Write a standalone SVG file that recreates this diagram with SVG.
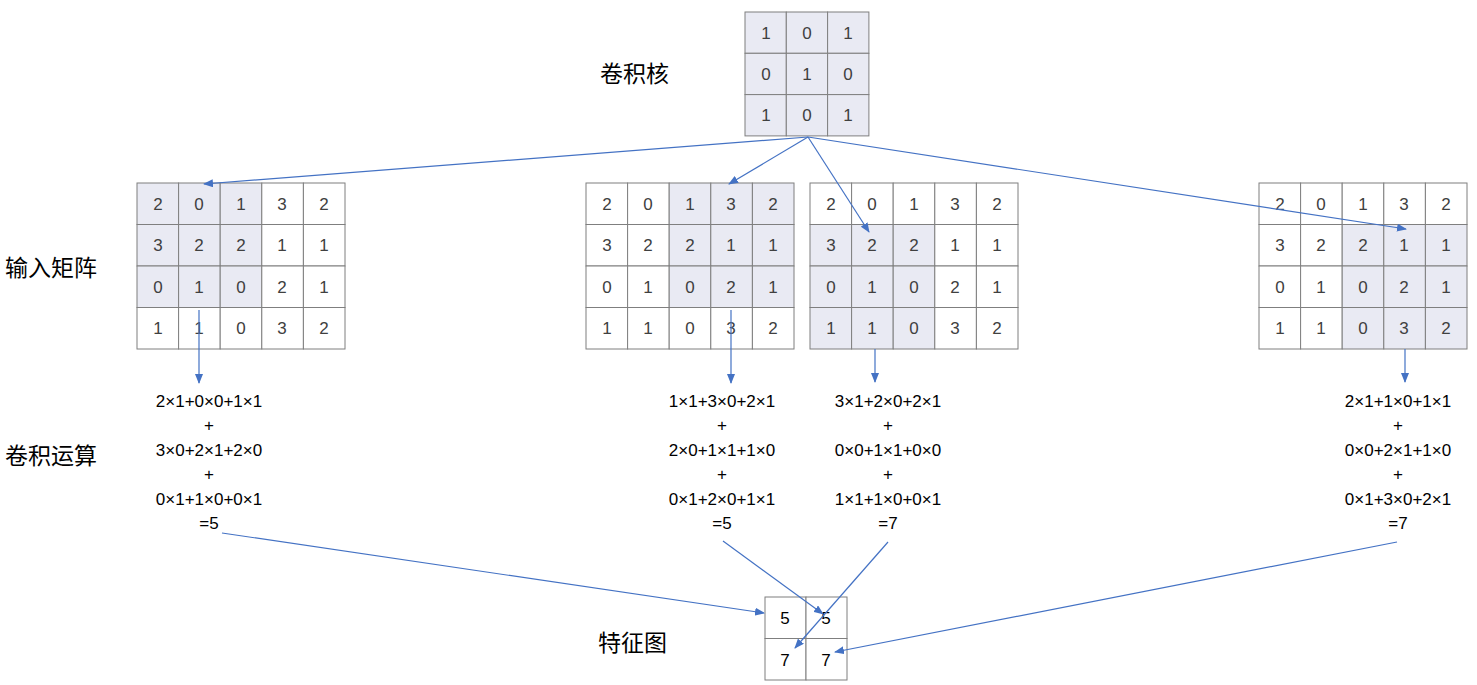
<svg xmlns="http://www.w3.org/2000/svg" width="1477" height="685" viewBox="0 0 1477 685">
<style>
.c{fill:#fff;stroke:#7f7f7f;stroke-width:1}
.s{fill:#e9eaf3;stroke:#7f7f7f;stroke-width:1}
.t{font-family:"Liberation Sans",Arial,sans-serif;font-size:17px;fill:#404040;text-anchor:middle;dominant-baseline:central}
.f{font-family:"Liberation Sans",Arial,sans-serif;font-size:17px;fill:#000;text-anchor:middle;dominant-baseline:central}
.l{font-family:"Noto Sans CJK SC",sans-serif;font-size:23px;fill:#000}
.a{stroke:#4472c4;stroke-width:1.2;fill:none;marker-end:url(#m)}
</style>
<defs><marker id="m" markerWidth="10" markerHeight="8" refX="9" refY="4" orient="auto" markerUnits="userSpaceOnUse"><path d="M0,0L10,4L0,8z" fill="#4472c4"/></marker></defs>
<rect width="1477" height="685" fill="#fff"/>
<text class="l" x="600" y="82">卷积核</text>
<text class="l" x="5" y="276">输入矩阵</text>
<text class="l" x="5" y="464">卷积运算</text>
<text class="l" x="598" y="651">特征图</text>
<g id="kernel">
<rect class="s" x="745" y="12" width="41.3" height="41.3"/><rect class="s" x="786.3" y="12" width="41.3" height="41.3"/><rect class="s" x="827.6" y="12" width="41.3" height="41.3"/>
<rect class="s" x="745" y="53.3" width="41.3" height="41.3"/><rect class="s" x="786.3" y="53.3" width="41.3" height="41.3"/><rect class="s" x="827.6" y="53.3" width="41.3" height="41.3"/>
<rect class="s" x="745" y="94.6" width="41.3" height="41.3"/><rect class="s" x="786.3" y="94.6" width="41.3" height="41.3"/><rect class="s" x="827.6" y="94.6" width="41.3" height="41.3"/>
<text class="t" x="766" y="33">1</text><text class="t" x="807" y="33">0</text><text class="t" x="848" y="33">1</text>
<text class="t" x="766" y="74">0</text><text class="t" x="807" y="74">1</text><text class="t" x="848" y="74">0</text>
<text class="t" x="766" y="115">1</text><text class="t" x="807" y="115">0</text><text class="t" x="848" y="115">1</text>
</g>
<g id="m1" transform="translate(137,183)">
<rect class="s" x="0" y="0" width="41.6" height="41.5"/><rect class="s" x="41.6" y="0" width="41.6" height="41.5"/><rect class="s" x="83.2" y="0" width="41.6" height="41.5"/><rect class="c" x="124.8" y="0" width="41.6" height="41.5"/><rect class="c" x="166.4" y="0" width="41.6" height="41.5"/>
<rect class="s" x="0" y="41.5" width="41.6" height="41.5"/><rect class="s" x="41.6" y="41.5" width="41.6" height="41.5"/><rect class="s" x="83.2" y="41.5" width="41.6" height="41.5"/><rect class="c" x="124.8" y="41.5" width="41.6" height="41.5"/><rect class="c" x="166.4" y="41.5" width="41.6" height="41.5"/>
<rect class="s" x="0" y="83" width="41.6" height="41.5"/><rect class="s" x="41.6" y="83" width="41.6" height="41.5"/><rect class="s" x="83.2" y="83" width="41.6" height="41.5"/><rect class="c" x="124.8" y="83" width="41.6" height="41.5"/><rect class="c" x="166.4" y="83" width="41.6" height="41.5"/>
<rect class="c" x="0" y="124.5" width="41.6" height="41.5"/><rect class="c" x="41.6" y="124.5" width="41.6" height="41.5"/><rect class="c" x="83.2" y="124.5" width="41.6" height="41.5"/><rect class="c" x="124.8" y="124.5" width="41.6" height="41.5"/><rect class="c" x="166.4" y="124.5" width="41.6" height="41.5"/>
<g id="nums1">
<text class="t" x="21" y="21">2</text><text class="t" x="62" y="21">0</text><text class="t" x="104" y="21">1</text><text class="t" x="145" y="21">3</text><text class="t" x="187" y="21">2</text>
<text class="t" x="21" y="62">3</text><text class="t" x="62" y="62">2</text><text class="t" x="104" y="62">2</text><text class="t" x="145" y="62">1</text><text class="t" x="187" y="62">1</text>
<text class="t" x="21" y="104">0</text><text class="t" x="62" y="104">1</text><text class="t" x="104" y="104">0</text><text class="t" x="145" y="104">2</text><text class="t" x="187" y="104">1</text>
<text class="t" x="21" y="145">1</text><text class="t" x="62" y="145">1</text><text class="t" x="104" y="145">0</text><text class="t" x="145" y="145">3</text><text class="t" x="187" y="145">2</text>
</g>
</g>
<g id="m2" transform="translate(586,183)">
<rect class="c" x="0" y="0" width="41.6" height="41.5"/><rect class="c" x="41.6" y="0" width="41.6" height="41.5"/><rect class="s" x="83.2" y="0" width="41.6" height="41.5"/><rect class="s" x="124.8" y="0" width="41.6" height="41.5"/><rect class="s" x="166.4" y="0" width="41.6" height="41.5"/>
<rect class="c" x="0" y="41.5" width="41.6" height="41.5"/><rect class="c" x="41.6" y="41.5" width="41.6" height="41.5"/><rect class="s" x="83.2" y="41.5" width="41.6" height="41.5"/><rect class="s" x="124.8" y="41.5" width="41.6" height="41.5"/><rect class="s" x="166.4" y="41.5" width="41.6" height="41.5"/>
<rect class="c" x="0" y="83" width="41.6" height="41.5"/><rect class="c" x="41.6" y="83" width="41.6" height="41.5"/><rect class="s" x="83.2" y="83" width="41.6" height="41.5"/><rect class="s" x="124.8" y="83" width="41.6" height="41.5"/><rect class="s" x="166.4" y="83" width="41.6" height="41.5"/>
<rect class="c" x="0" y="124.5" width="41.6" height="41.5"/><rect class="c" x="41.6" y="124.5" width="41.6" height="41.5"/><rect class="c" x="83.2" y="124.5" width="41.6" height="41.5"/><rect class="c" x="124.8" y="124.5" width="41.6" height="41.5"/><rect class="c" x="166.4" y="124.5" width="41.6" height="41.5"/>
<use href="#nums1"/>
</g>
<g id="m3" transform="translate(810,183)">
<rect class="c" x="0" y="0" width="41.6" height="41.5"/><rect class="c" x="41.6" y="0" width="41.6" height="41.5"/><rect class="c" x="83.2" y="0" width="41.6" height="41.5"/><rect class="c" x="124.8" y="0" width="41.6" height="41.5"/><rect class="c" x="166.4" y="0" width="41.6" height="41.5"/>
<rect class="s" x="0" y="41.5" width="41.6" height="41.5"/><rect class="s" x="41.6" y="41.5" width="41.6" height="41.5"/><rect class="s" x="83.2" y="41.5" width="41.6" height="41.5"/><rect class="c" x="124.8" y="41.5" width="41.6" height="41.5"/><rect class="c" x="166.4" y="41.5" width="41.6" height="41.5"/>
<rect class="s" x="0" y="83" width="41.6" height="41.5"/><rect class="s" x="41.6" y="83" width="41.6" height="41.5"/><rect class="s" x="83.2" y="83" width="41.6" height="41.5"/><rect class="c" x="124.8" y="83" width="41.6" height="41.5"/><rect class="c" x="166.4" y="83" width="41.6" height="41.5"/>
<rect class="s" x="0" y="124.5" width="41.6" height="41.5"/><rect class="s" x="41.6" y="124.5" width="41.6" height="41.5"/><rect class="s" x="83.2" y="124.5" width="41.6" height="41.5"/><rect class="c" x="124.8" y="124.5" width="41.6" height="41.5"/><rect class="c" x="166.4" y="124.5" width="41.6" height="41.5"/>
<use href="#nums1"/>
</g>
<g id="m4" transform="translate(1259,183)">
<rect class="c" x="0" y="0" width="41.6" height="41.5"/><rect class="c" x="41.6" y="0" width="41.6" height="41.5"/><rect class="c" x="83.2" y="0" width="41.6" height="41.5"/><rect class="c" x="124.8" y="0" width="41.6" height="41.5"/><rect class="c" x="166.4" y="0" width="41.6" height="41.5"/>
<rect class="c" x="0" y="41.5" width="41.6" height="41.5"/><rect class="c" x="41.6" y="41.5" width="41.6" height="41.5"/><rect class="s" x="83.2" y="41.5" width="41.6" height="41.5"/><rect class="s" x="124.8" y="41.5" width="41.6" height="41.5"/><rect class="s" x="166.4" y="41.5" width="41.6" height="41.5"/>
<rect class="c" x="0" y="83" width="41.6" height="41.5"/><rect class="c" x="41.6" y="83" width="41.6" height="41.5"/><rect class="s" x="83.2" y="83" width="41.6" height="41.5"/><rect class="s" x="124.8" y="83" width="41.6" height="41.5"/><rect class="s" x="166.4" y="83" width="41.6" height="41.5"/>
<rect class="c" x="0" y="124.5" width="41.6" height="41.5"/><rect class="c" x="41.6" y="124.5" width="41.6" height="41.5"/><rect class="s" x="83.2" y="124.5" width="41.6" height="41.5"/><rect class="s" x="124.8" y="124.5" width="41.6" height="41.5"/><rect class="s" x="166.4" y="124.5" width="41.6" height="41.5"/>
<use href="#nums1"/>
</g>
<g id="calc1" class="f">
<text class="f" x="209" y="401">2×1+0×0+1×1</text><text class="f" x="209" y="425">+</text><text class="f" x="209" y="450">3×0+2×1+2×0</text><text class="f" x="209" y="474">+</text><text class="f" x="209" y="499">0×1+1×0+0×1</text><text class="f" x="209" y="523">=5</text>
</g>
<g id="calc2">
<text class="f" x="722" y="401">1×1+3×0+2×1</text><text class="f" x="722" y="425">+</text><text class="f" x="722" y="450">2×0+1×1+1×0</text><text class="f" x="722" y="474">+</text><text class="f" x="722" y="499">0×1+2×0+1×1</text><text class="f" x="722" y="523">=5</text>
</g>
<g id="calc3">
<text class="f" x="888" y="401">3×1+2×0+2×1</text><text class="f" x="888" y="425">+</text><text class="f" x="888" y="450">0×0+1×1+0×0</text><text class="f" x="888" y="474">+</text><text class="f" x="888" y="499">1×1+1×0+0×1</text><text class="f" x="888" y="523">=7</text>
</g>
<g id="calc4">
<text class="f" x="1398" y="401">2×1+1×0+1×1</text><text class="f" x="1398" y="425">+</text><text class="f" x="1398" y="450">0×0+2×1+1×0</text><text class="f" x="1398" y="474">+</text><text class="f" x="1398" y="499">0×1+3×0+2×1</text><text class="f" x="1398" y="523">=7</text>
</g>
<g id="feature">
<rect class="c" x="765" y="597" width="41" height="41.5"/><rect class="c" x="806" y="597" width="41" height="41.5"/>
<rect class="c" x="765" y="638.5" width="41" height="41.5"/><rect class="c" x="806" y="638.5" width="41" height="41.5"/>
<text class="f" x="785" y="618">5</text><text class="f" x="826" y="618">5</text>
<text class="f" x="785" y="660">7</text><text class="f" x="826" y="660">7</text>
</g>
<g id="connectors">
<line class="a" x1="808" y1="137" x2="204" y2="184"/>
<line class="a" x1="808" y1="137" x2="729" y2="184"/>
<line class="a" x1="808" y1="137" x2="869" y2="232"/>
<line class="a" x1="808" y1="137" x2="1406" y2="229"/>
<line class="a" x1="199" y1="310" x2="199" y2="383"/>
<line class="a" x1="731" y1="310" x2="731" y2="383"/>
<line class="a" x1="875" y1="349" x2="875" y2="382"/>
<line class="a" x1="1405" y1="349" x2="1405" y2="382"/>
<line class="a" x1="222" y1="533" x2="764" y2="613"/>
<line class="a" x1="723" y1="541" x2="823" y2="614"/>
<line class="a" x1="888" y1="542" x2="795" y2="648"/>
<line class="a" x1="1397" y1="542" x2="835" y2="652"/>
</g>
</svg>
